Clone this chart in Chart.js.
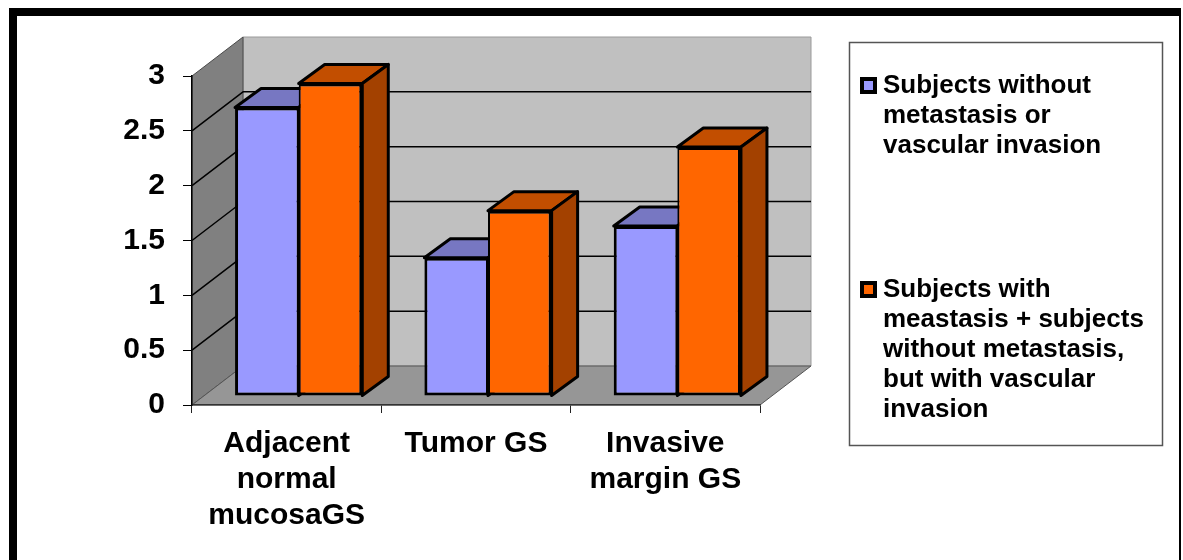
<!DOCTYPE html>
<html>
<head>
<meta charset="utf-8">
<script src="https://cdn.jsdelivr.net/npm/chart.js@4.4.1/dist/chart.umd.min.js"></script>
<style>
  body { margin: 0; background: #fff; }
  canvas { display: block; }
</style>
</head>
<body>
<canvas id="gsChart" width="1183" height="560"></canvas>
<script>
// data
const categories = [['Adjacent', 'normal', 'mucosaGS'], 'Tumor GS', ['Invasive', 'margin GS']];
const withoutMetastasis = [2.63, 1.26, 1.55];
const withMetastasis = [2.85, 1.69, 2.27];
const seriesLines = [
    ['Subjects without', 'metastasis or', 'vascular invasion'],
    ['Subjects with', 'meastasis + subjects', 'without metastasis,', 'but with vascular', 'invasion']
];
const yTicks = [0, 0.5, 1, 1.5, 2, 2.5, 3];

const FONT = '"Liberation Sans", Arial, sans-serif';
const WALL = { dx: 51, dy: -39 };      // depth of the floor / side wall
const SHIFT = { dx: 12, dy: -9 };      // bars stand a bit behind the front plane
const DEPTH = { dx: 26, dy: -19 };     // depth of one bar

function poly(ctx, pts, fill, stroke, lw) {
    ctx.beginPath();
    ctx.moveTo(pts[0][0], pts[0][1]);
    for (let i = 1; i < pts.length; i++) ctx.lineTo(pts[i][0], pts[i][1]);
    ctx.closePath();
    if (fill) { ctx.fillStyle = fill; ctx.fill(); }
    if (stroke) { ctx.strokeStyle = stroke; ctx.lineWidth = lw; ctx.lineJoin = 'round'; ctx.stroke(); }
}

const box3d = {
    id: 'box3d',
    beforeDraw(chart) {
        const { ctx, chartArea: a, scales: { y } } = chart;
        ctx.save();
        ctx.fillStyle = '#fff';
        ctx.fillRect(0, 0, chart.width, chart.height);

        // frame round the picture
        ctx.fillStyle = '#000';
        ctx.fillRect(9, 8, 1172, 8);
        ctx.fillRect(9, 8, 8, 552);
        ctx.fillRect(1179, 8, 2, 552);

        const bl = a.left + WALL.dx, br = a.right + WALL.dx;
        const bt = a.top + WALL.dy, bb = a.bottom + WALL.dy;
        poly(ctx, [[bl, bt], [br, bt], [br, bb], [bl, bb]], '#c0c0c0', '#9a9a9a', 1);
        poly(ctx, [[a.left, a.top], [bl, bt], [bl, bb], [a.left, a.bottom]], '#808080', '#4a4a4a', 1);
        poly(ctx, [[a.left, a.bottom], [bl, bb], [br, bb], [a.right, a.bottom]], '#969696', '#555', 1);

        // gridlines on the walls
        ctx.strokeStyle = '#000';
        ctx.lineWidth = 1.5;
        y.ticks.forEach(t => {
            if (t.value <= y.min || t.value >= y.max) return;
            const py = y.getPixelForValue(t.value);
            ctx.beginPath();
            ctx.moveTo(a.left, py);
            ctx.lineTo(bl, py + WALL.dy);
            ctx.lineTo(br, py + WALL.dy);
            ctx.stroke();
        });
        ctx.restore();
    },
    beforeDatasetsDraw(chart) {
        const ctx = chart.ctx;
        ctx.save();
        ctx.translate(SHIFT.dx, SHIFT.dy);
        chart.data.datasets.forEach((ds, i) => {
            chart.getDatasetMeta(i).data.forEach(bar => {
                const { x, y, base, width } = bar.getProps(['x', 'y', 'base', 'width'], true);
                const l = x - width / 2, r = x + width / 2;
                poly(ctx, [[l, y], [l + DEPTH.dx, y + DEPTH.dy], [r + DEPTH.dx, y + DEPTH.dy], [r, y]], ds.topColor, '#000', 3);
                poly(ctx, [[r, y], [r + DEPTH.dx, y + DEPTH.dy], [r + DEPTH.dx, base + DEPTH.dy], [r, base]], ds.sideColor, '#000', 3);
            });
        });
    },
    afterDatasetsDraw(chart) {
        chart.ctx.restore();
    },
    afterDraw(chart) {
        const ctx = chart.ctx;
        ctx.save();
        ctx.strokeStyle = '#555';
        ctx.lineWidth = 1.5;
        ctx.strokeRect(849.5, 42.5, 313, 403);

        const entryTop = [77, 281];
        ctx.font = 'bold 26px ' + FONT;
        ctx.textBaseline = 'alphabetic';
        chart.data.datasets.forEach((ds, i) => {
            const top = entryTop[i];
            ctx.fillStyle = '#000';
            ctx.fillRect(860, top, 17, 17);
            ctx.fillStyle = ds.backgroundColor;
            ctx.fillRect(864, top + 4, 9, 9);
            ctx.fillStyle = '#000';
            seriesLines[i].forEach((line, k) => {
                ctx.fillText(line, 883, top + 16 + k * 30);
            });
        });
        ctx.restore();
    }
};

const ctxGs = document.getElementById('gsChart').getContext('2d');
const gsChart = new Chart(ctxGs, {
    type: 'bar',
    data: {
        labels: categories,
        datasets: [
            {
                label: seriesLines[0].join(' '),
                data: withoutMetastasis,
                backgroundColor: '#9999ff',
                topColor: '#7777c2',
                sideColor: '#5c5c99',
                borderColor: '#000',
                borderWidth: { top: 3, left: 3, bottom: 3, right: 2 },
                borderSkipped: false,
            },
            {
                label: seriesLines[1].join(' '),
                data: withMetastasis,
                backgroundColor: '#ff6600',
                topColor: '#c24e00',
                sideColor: '#a34100',
                borderColor: '#000',
                borderWidth: { top: 3, left: 2, bottom: 3, right: 3 },
                borderSkipped: false,
            }
        ]
    },
    options: {
        responsive: false,
        animation: false,
        layout: { padding: { top: 76, right: 423, bottom: 0, left: 0 } },
        datasets: { bar: { categoryPercentage: 0.672, barPercentage: 1 } },
        plugins: {
            legend: { display: false },
            tooltip: { enabled: false }
        },
        scales: {
            x: {
                afterFit(s) { s.height = 155; },
                grid: { drawOnChartArea: false, tickLength: 8, color: '#222', lineWidth: 1 },
                border: { display: true, color: '#333', width: 1.5 },
                ticks: {
                    color: '#000',
                    padding: 13,
                    maxRotation: 0,
                    autoSkip: false,
                    font: { family: FONT, size: 30, weight: 'bold', lineHeight: 1.2 }
                }
            },
            y: {
                min: 0,
                max: 3,
                afterFit(s) { s.width = 192; },
                afterBuildTicks(s) { s.ticks = yTicks.map(v => ({ value: v })); },
                grid: { drawOnChartArea: false, tickLength: 9, color: '#000', lineWidth: 1 },
                border: { display: true, color: '#000', width: 1.5 },
                ticks: {
                    color: '#000',
                    padding: 18,
                    callback: v => String(v),
                    font: { family: FONT, size: 30, weight: 'bold' }
                }
            }
        }
    },
    plugins: [box3d]
});
</script>
</body>
</html>
